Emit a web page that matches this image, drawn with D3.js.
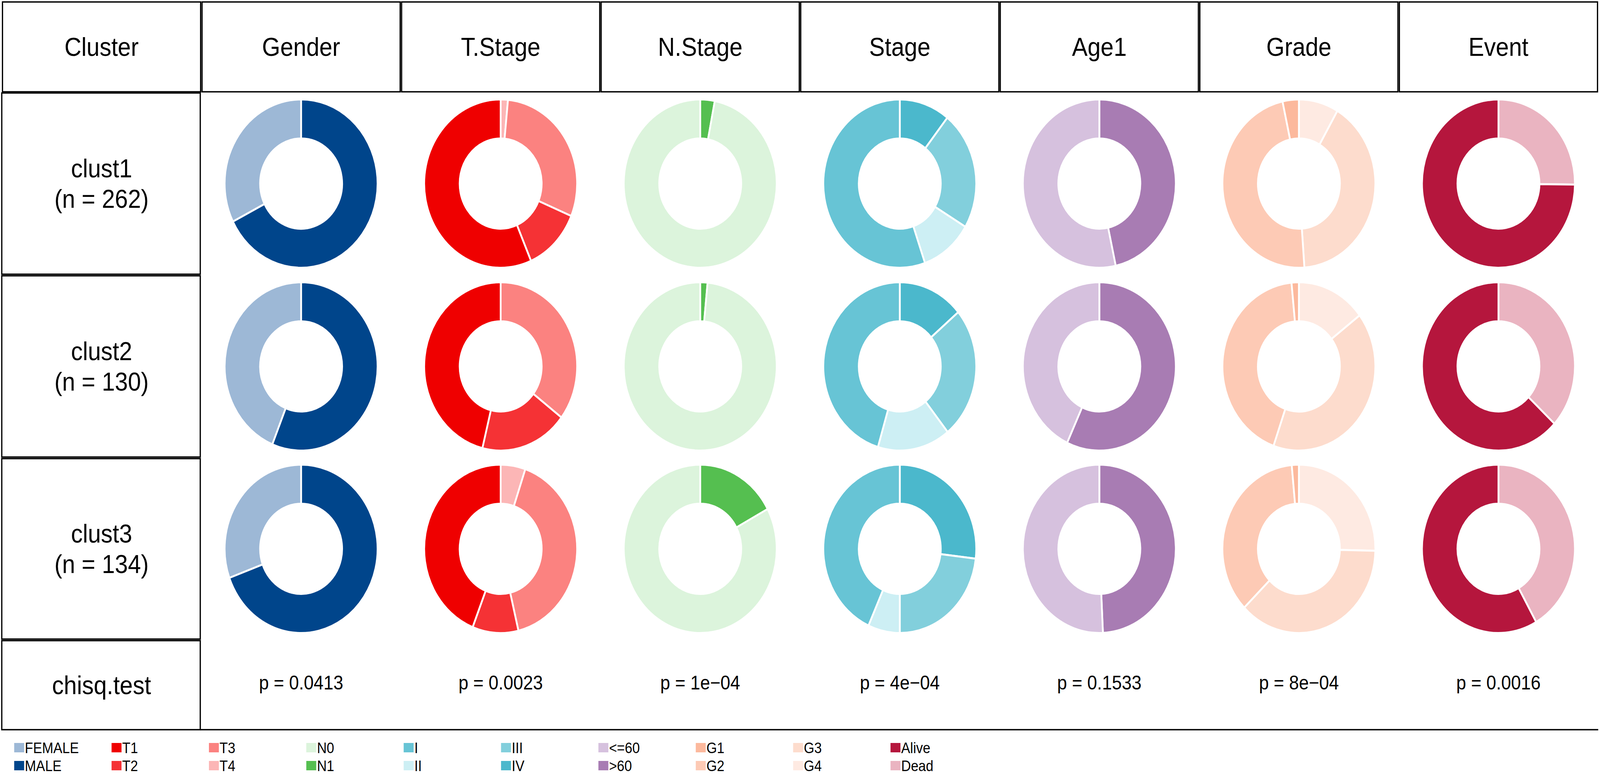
<!DOCTYPE html>
<html lang="en">
<head>
  <meta charset="UTF-8">
  <title>Cluster donut table</title>
  <style>
    html, body { margin: 0; width: 100%; height: 100%; overflow: hidden; background: #fff; }
    svg { display: block; width: 100vw; height: 100vh; font-family: "Liberation Sans", Arial, sans-serif; }
    .box { fill: none; stroke: #000; stroke-width: 3.5; }
    .slice { stroke: #fff; stroke-width: 5; }
  </style>
</head>
<body>
  <svg id="chart"></svg>
  <script src="https://d3js.org/d3.v7.min.js"></script>
  <script>
    // values
    const clusters = ["clust1", "clust2", "clust3"];
    const clusterN = [262, 130, 134];
    const variables = ["Gender", "T.Stage", "N.Stage", "Stage", "Age1", "Grade", "Event"];
    const pValues = ["p = 0.0413", "p = 0.0023", "p = 1e\u221204", "p = 4e\u221204", "p = 0.1533", "p = 8e\u221204", "p = 0.0016"];

    const genderLevels = ["FEMALE", "MALE"];
    const genderColors = ["#9DB8D6", "#00458B"];
    const genderCounts = [[85, 177], [57, 73], [41, 93]];

    const tLevels = ["T1", "T2", "T3", "T4"];
    const tColors = ["#EF0000", "#F53235", "#FB8280", "#FCB6B6"];
    const tCounts = [[148, 32, 78, 4], [60, 24, 46, 0], [59, 13, 55, 7]];

    const nLevels = ["N0", "N1"];
    const nColors = ["#DCF4DC", "#55BF50"];
    const nCounts = [[254, 8], [128, 2], [111, 23]];

    const stageLevels = ["I", "II", "III", "IV"];
    const stageColors = ["#67C4D5", "#CDEFF4", "#82CFDC", "#4BB8CC"];
    const stageCounts = [[145, 29, 60, 28], [59, 20, 33, 18], [58, 9, 31, 36]];

    const ageLevels = ["<=60", ">60"];
    const ageColors = ["#D6C1DE", "#A87CB3"];
    const ageCounts = [[140, 122], [56, 74], [68, 66]];

    const gradeLevels = ["G1", "G2", "G3", "G4"];
    const gradeColors = ["#FCB99D", "#FDCAB5", "#FDDCCD", "#FEEAE2"];
    const gradeCounts = [[9, 125, 106, 22], [2, 56, 53, 19], [2, 48, 50, 34]];

    const eventLevels = ["Alive", "Dead"];
    const eventColors = ["#B5163D", "#EAB4C1"];
    const eventCounts = [[196, 66], [82, 48], [78, 56]];

    const levelSets = [genderLevels, tLevels, nLevels, stageLevels, ageLevels, gradeLevels, eventLevels];
    const colorSets = [genderColors, tColors, nColors, stageColors, ageColors, gradeColors, eventColors];
    const countSets = [genderCounts, tCounts, nCounts, stageCounts, ageCounts, gradeCounts, eventCounts];

    // drawn in reference pixels, stretched to whatever the window gives
    const W = 4508, H = 1984;
    const svg = d3.select("#chart")
      .attr("viewBox", [0, 0, W, H])
      .attr("preserveAspectRatio", "none");

    // table grid
    const left = 5, right = 4503;
    const x = d3.scaleBand().domain(["Cluster"].concat(variables)).range([left, right]);
    const rowTops = [5, 238, 706, 1174, 1640];
    const rowBottoms = [235, 702, 1170, 1636, 1868];
    const gap = 2;

    // header boxes
    const header = svg.append("g");
    header.selectAll("rect")
      .data(x.domain())
      .join("rect")
      .attr("class", "box")
      .attr("x", d => x(d) + gap)
      .attr("y", rowTops[0])
      .attr("width", x.bandwidth() - gap * 2)
      .attr("height", rowBottoms[0] - rowTops[0]);
    header.selectAll("text")
      .data(x.domain())
      .join("text")
      .attr("x", d => x(d) + x.bandwidth() / 2)
      .attr("y", (rowTops[0] + rowBottoms[0]) / 2)
      .attr("dy", "0.35em")
      .attr("text-anchor", "middle")
      .attr("font-size", 66)
      .text(d => d);

    // left column boxes
    const leftRows = clusters.map((c, i) => ({ lines: [c, `(n = ${clusterN[i]})`], i: i + 1 }))
      .concat([{ lines: ["chisq.test"], i: 4 }]);
    const rowG = svg.append("g");
    rowG.selectAll("rect")
      .data(leftRows)
      .join("rect")
      .attr("class", "box")
      .attr("x", left)
      .attr("y", d => rowTops[d.i])
      .attr("width", x.bandwidth() - gap - 1)
      .attr("height", d => rowBottoms[d.i] - rowTops[d.i]);
    rowG.selectAll("text")
      .data(leftRows)
      .join("text")
      .attr("text-anchor", "middle")
      .attr("font-size", 66)
      .each(function (d) {
        const cy = (rowTops[d.i] + rowBottoms[d.i]) / 2;
        const n = d.lines.length;
        d3.select(this).selectAll("tspan")
          .data(d.lines)
          .join("tspan")
          .attr("x", left + x.bandwidth() / 2)
          .attr("y", (t, k) => cy + (k - (n - 1) / 2) * 78)
          .attr("dy", "0.35em")
          .text(t => t);
      });

    // bottom rule of the body
    svg.append("line")
      .attr("x1", left + x.bandwidth() - gap - 1).attr("x2", right)
      .attr("y1", rowBottoms[4]).attr("y2", rowBottoms[4])
      .attr("stroke", "#000").attr("stroke-width", 3.5);

    // donuts
    const pie = d3.pie().sort(null).value(d => d.n);
    const arc = d3.arc().innerRadius(115.5).outerRadius(215.5);

    variables.forEach((v, vi) => {
      const levels = levelSets[vi];
      const color = d3.scaleOrdinal().domain(levels).range(colorSets[vi]);
      clusters.forEach((c, ci) => {
        const cy = (rowTops[ci + 1] + rowBottoms[ci + 1]) / 2;
        // clockwise from 12 o'clock: last level first
        const slices = levels.map((l, k) => ({ level: l, n: countSets[vi][ci][k] })).reverse();
        svg.append("g")
          .attr("transform", `translate(${x(v) + x.bandwidth() / 2},${cy})`)
          .selectAll("path")
          .data(pie(slices))
          .join("path")
          .attr("class", "slice")
          .attr("fill", d => color(d.data.level))
          .attr("d", arc);
      });
      svg.append("text")
        .attr("x", x(v) + x.bandwidth() / 2)
        .attr("y", (rowTops[4] + rowBottoms[4]) / 2 - 6)
        .attr("dy", "0.35em")
        .attr("text-anchor", "middle")
        .attr("font-size", 50)
        .text(pValues[vi]);
    });

    // legend, two rows, column-major
    const legendItems = [];
    levelSets.forEach((levels, vi) => levels.forEach((l, k) => legendItems.push({ label: l, color: colorSets[vi][k] })));
    const lx = d3.scaleLinear().domain([0, 9]).range([40, 2509]);
    const ly = [1914, 1960];
    const legend = svg.append("g").selectAll("g")
      .data(legendItems)
      .join("g")
      .attr("transform", (d, k) => `translate(${lx(Math.floor(k / 2))},${ly[k % 2]})`);
    legend.append("rect")
      .attr("x", 0).attr("y", -12)
      .attr("width", 28).attr("height", 24)
      .attr("fill", d => d.color);
    legend.append("text")
      .attr("x", 30)
      .attr("dy", "0.36em")
      .attr("font-size", 38)
      .text(d => d.label);
  </script>
</body>
</html>
